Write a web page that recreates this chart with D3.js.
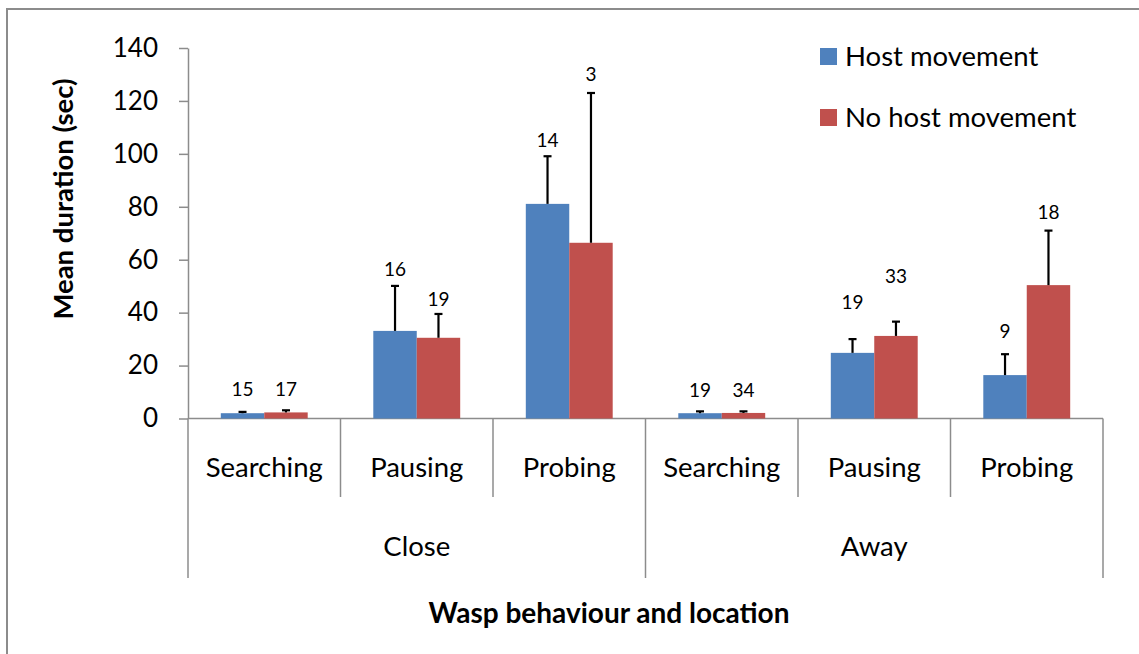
<!DOCTYPE html>
<html>
<head>
<meta charset="utf-8">
<script src="https://cdn.jsdelivr.net/npm/d3@7/dist/d3.min.js"></script>
<style>
  html, body { margin: 0; padding: 0; background: #fff; }
  svg { display: block; font-family: Lato, "Open Sans", sans-serif; }
</style>
</head>
<body>
<svg id="chart" width="1139" height="654"></svg>
<script>
// Wasp behaviour by location: mean duration (sec) with standard error, n above each bar
const groups = ["Close", "Away"];
const behaviours = ["Searching", "Pausing", "Probing"];
const seriesNames = ["Host movement", "No host movement"];
const seriesColors = ["#4F81BD", "#C0504D"];

const hostMean   = [2.0, 33.1, 81.1, 2.0, 24.8, 16.4];
const hostSE     = [0.5, 17.0, 18.0, 0.7, 5.2, 7.9];
const hostN      = [15, 16, 14, 19, 19, 9];
const hostNAt    = [8.5, 53.8, 102.5, 8.3, 41.3, 30.3];

const noHostMean = [2.3, 30.5, 66.4, 2.1, 31.2, 50.4];
const noHostSE   = [0.8, 9.0, 56.6, 0.6, 5.4, 20.6];
const noHostN    = [17, 19, 3, 34, 33, 18];
const noHostNAt  = [8.5, 42.5, 127.7, 8.3, 51.1, 75.3];

const yTicks = [0, 20, 40, 60, 80, 100, 120, 140];

const svg = d3.select("#chart");

// outer frame
svg.append("rect")
  .attr("x", 7).attr("y", 9).attr("width", 1200).attr("height", 700)
  .attr("fill", "#fff").attr("stroke", "#8c8c8c").attr("stroke-width", 2);

const plot = { left: 188, right: 1103, top: 48, bottom: 418.5 };
const catLevels = { inner: 497, outer: 578 };

// build the flat category list
const cats = [];
groups.forEach(g => behaviours.forEach(b => cats.push({ group: g, behaviour: b })));
const rows = cats.map((c, i) => ({
  key: c.group + "-" + c.behaviour,
  group: c.group,
  behaviour: c.behaviour,
  values: [
    { s: 0, mean: hostMean[i], se: hostSE[i], n: hostN[i], at: hostNAt[i] },
    { s: 1, mean: noHostMean[i], se: noHostSE[i], n: noHostN[i], at: noHostNAt[i] }
  ]
}));

const x0 = d3.scaleBand().domain(rows.map(r => r.key))
  .range([plot.left, plot.right]).paddingInner(0).paddingOuter(0);
const x1 = d3.scaleBand().domain([0, 1])
  .range([0, x0.bandwidth()]).paddingInner(0).paddingOuter(0.755);
const y = d3.scaleLinear().domain([0, 140]).range([plot.bottom, plot.top]);

const axisColor = "#8c8c8c";

// y axis
const yAxis = svg.append("g")
  .attr("transform", `translate(${plot.left},0)`)
  .call(d3.axisLeft(y).tickValues(yTicks).tickSize(9).tickPadding(21).tickSizeOuter(0));
yAxis.select(".domain").attr("stroke", axisColor).attr("stroke-width", 1.5);
yAxis.selectAll(".tick line").attr("stroke", axisColor).attr("stroke-width", 1.5);
yAxis.selectAll(".tick text")
  .attr("font-size", 26).attr("fill", "#000")
  .attr("font-family", "Lato, 'Open Sans', sans-serif");

// category axis line
svg.append("line")
  .attr("x1", plot.left).attr("x2", plot.right)
  .attr("y1", y(0)).attr("y2", y(0))
  .attr("stroke", axisColor).attr("stroke-width", 1.5);

// category separators: short between behaviours, long between groups
const bounds = d3.range(rows.length + 1).map(i => ({
  x: i < rows.length ? x0(rows[i].key) : plot.right,
  outer: i % behaviours.length === 0
}));
svg.append("g").selectAll("line").data(bounds).join("line")
  .attr("x1", d => d.x).attr("x2", d => d.x)
  .attr("y1", y(0))
  .attr("y2", d => d.outer ? catLevels.outer : catLevels.inner)
  .attr("stroke", axisColor).attr("stroke-width", 1.5);

// behaviour labels
svg.append("g").selectAll("text").data(rows).join("text")
  .attr("x", d => x0(d.key) + x0.bandwidth() / 2)
  .attr("y", 467)
  .attr("dy", "0.35em")
  .attr("text-anchor", "middle")
  .attr("font-size", 27.5)
  .text(d => d.behaviour);

// group labels
svg.append("g").selectAll("text").data(groups).join("text")
  .attr("x", (g, gi) => {
    const first = rows[gi * behaviours.length];
    const last = rows[gi * behaviours.length + behaviours.length - 1];
    return (x0(first.key) + x0(last.key) + x0.bandwidth()) / 2;
  })
  .attr("y", 546)
  .attr("dy", "0.35em")
  .attr("text-anchor", "middle")
  .attr("font-size", 27.5)
  .text(g => g);

// bars
const barG = svg.append("g").selectAll("g").data(rows).join("g")
  .attr("transform", d => `translate(${x0(d.key)},0)`);

barG.selectAll("rect").data(d => d.values).join("rect")
  .attr("x", v => x1(v.s))
  .attr("width", x1.bandwidth())
  .attr("y", v => y(v.mean))
  .attr("height", v => y(0) - y(v.mean))
  .attr("fill", v => seriesColors[v.s]);

// upper error bars
barG.selectAll("g.err").data(d => d.values).join("g")
  .attr("class", "err")
  .each(function (v) {
    const g = d3.select(this);
    const cx = x1(v.s) + x1.bandwidth() / 2;
    g.append("line")
      .attr("x1", cx).attr("x2", cx)
      .attr("y1", y(v.mean)).attr("y2", y(v.mean + v.se))
      .attr("stroke", "#000").attr("stroke-width", 2.2);
    g.append("line")
      .attr("x1", cx - 4).attr("x2", cx + 4)
      .attr("y1", y(v.mean + v.se)).attr("y2", y(v.mean + v.se))
      .attr("stroke", "#000").attr("stroke-width", 2.2);
  });

// sample sizes
barG.selectAll("text.n").data(d => d.values).join("text")
  .attr("class", "n")
  .attr("x", v => x1(v.s) + x1.bandwidth() / 2)
  .attr("y", v => y(v.at))
  .attr("text-anchor", "middle")
  .attr("font-size", 19)
  .text(v => v.n);

// y axis title
svg.append("text")
  .attr("transform", `translate(73,${199}) rotate(-90)`)
  .attr("text-anchor", "middle")
  .attr("font-size", 27.5)
  .attr("font-weight", "bold")
  .text("Mean duration (sec)");

// x axis title
svg.append("text")
  .attr("x", 609).attr("y", 613)
  .attr("dy", "0.35em")
  .attr("text-anchor", "middle")
  .attr("font-size", 28)
  .attr("font-weight", "bold")
  .text("Wasp behaviour and location");

// legend
const legend = svg.append("g").selectAll("g").data(seriesNames).join("g")
  .attr("transform", (d, i) => `translate(820,${48 + i * 61})`);
legend.append("rect")
  .attr("width", 17).attr("height", 17)
  .attr("fill", (d, i) => seriesColors[i]);
legend.append("text")
  .attr("x", 25).attr("y", 8.5)
  .attr("dy", "0.35em")
  .attr("font-size", 27.5)
  .text(d => d);
</script>
</body>
</html>
